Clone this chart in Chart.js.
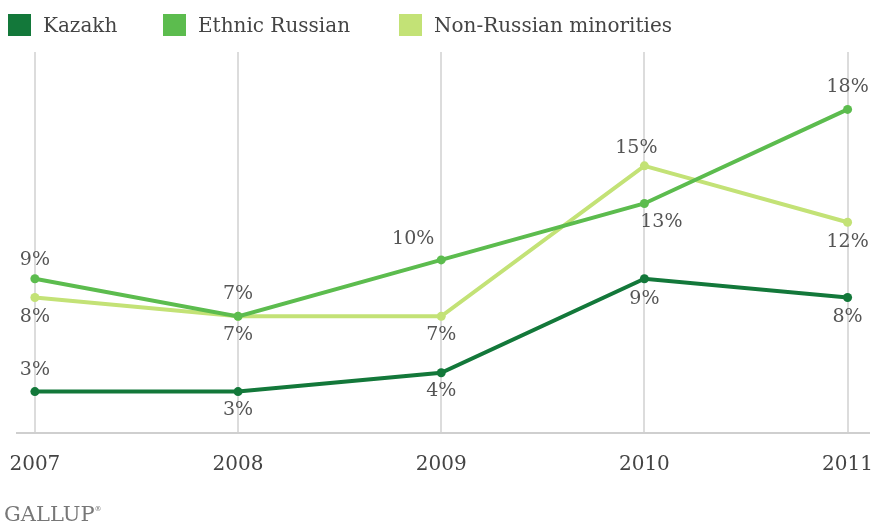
<!DOCTYPE html>
<html>
<head>
<meta charset="utf-8">
<script src="https://cdn.jsdelivr.net/npm/chart.js@4/dist/chart.umd.min.js"></script>
<style>
  html, body { margin: 0; padding: 0; background: #fff; }
  #wrap { position: relative; width: 873px; height: 527px; }
  #legend { position: absolute; top: 14px; left: 0; width: 873px; height: 22px;
            font-family: "DejaVu Serif", serif; font-size: 20px; color: #444; }
  .item { position: absolute; top: 0; display: flex; align-items: center; height: 22px; white-space: nowrap; }
  .box { width: 23px; height: 22px; margin-right: 12px; }
  #brand { position: absolute; left: 4px; top: 502px; font-family: "DejaVu Serif", serif;
           font-size: 21px; color: #777; }
  #brand sup { font-size: 7px; vertical-align: 10px; }
</style>
</head>
<body>
<div id="wrap">
  <canvas id="chart" width="873" height="527"></canvas>
  <div id="legend"></div>
  <div id="brand">GALLUP<sup>®</sup></div>
</div>
<script>
// Données
const annees = [2007, 2008, 2009, 2010, 2011];
const series = ['Kazakh', 'Ethnic Russian', 'Non-Russian minorities'];
const kazakh = [3, 3, 4, 9, 8];
const russes = [9, 7, 10, 13, 18];
const minorites = [8, 7, 7, 15, 12];

const couleurs = ['#13783a', '#5cbc4e', '#c3e276'];

// Position des étiquettes (décalage x, y par point)
const decalages = [
    [[0, -22], [0, 18], [0, 18], [0, 20], [0, 20]],
    [[0, -19], [0, -22], [-28, -21], [17, 19], [0, -22]],
    [[0, 20], [0, 19], [0, 19], [-8, -18], [0, 20]]
];

// Légende HTML
const legend = document.getElementById('legend');
const gauches = [8, 163, 399];
series.forEach((nom, i) => {
    const item = document.createElement('div');
    item.className = 'item';
    item.style.left = gauches[i] + 'px';
    item.innerHTML = `<span class="box" style="background:${couleurs[i]}"></span><span>${nom}</span>`;
    legend.appendChild(item);
});

// Plugin : étiquettes des valeurs
const etiquettes = {
    id: 'etiquettes',
    afterDatasetsDraw(chart) {
        const ctx = chart.ctx;
        ctx.save();
        ctx.font = '19px "DejaVu Serif", serif';
        ctx.fillStyle = '#555';
        ctx.textAlign = 'center';
        ctx.textBaseline = 'middle';
        chart.data.datasets.forEach((ds, i) => {
            chart.getDatasetMeta(i).data.forEach((pt, j) => {
                const [dx, dy] = decalages[i][j];
                ctx.fillText(ds.data[j].y + '%', pt.x + dx, pt.y + dy);
            });
        });
        ctx.restore();
    }
};

const valeurs = [kazakh, russes, minorites];
const datasets = series.map((nom, i) => ({
    label: nom,
    data: annees.map((a, j) => ({ x: a, y: valeurs[i][j] })),
    borderColor: couleurs[i],
    backgroundColor: couleurs[i],
    borderWidth: 4,
    pointRadius: 4.5,
    pointBorderWidth: 0,
    tension: 0,
    order: i + 1
}));

new Chart(document.getElementById('chart').getContext('2d'), {
    type: 'line',
    data: { datasets },
    options: {
        responsive: false,
        animation: false,
        layout: { padding: { left: 17, right: 3, top: 52, bottom: 30 } },
        scales: {
            x: {
                type: 'linear',
                min: 2006.912,
                max: 2011.103,
                afterBuildTicks: axis => { axis.ticks = annees.map(v => ({ value: v })); },
                afterFit: axis => { axis.paddingLeft = 0; axis.paddingRight = 0; },
                grid: { color: '#dcdcdc', lineWidth: 2, drawTicks: false },
                border: { display: true, color: '#cfcfcf', width: 2 },
                ticks: {
                    padding: 20,
                    autoSkip: false,
                    maxRotation: 0,
                    color: '#444',
                    font: { family: '"DejaVu Serif", serif', size: 20 },
                    callback: v => String(v)
                }
            },
            y: { display: false, min: 0.8, max: 21.05 }
        },
        plugins: { legend: { display: false }, tooltip: { enabled: false } }
    },
    plugins: [etiquettes]
});
</script>
</body>
</html>
